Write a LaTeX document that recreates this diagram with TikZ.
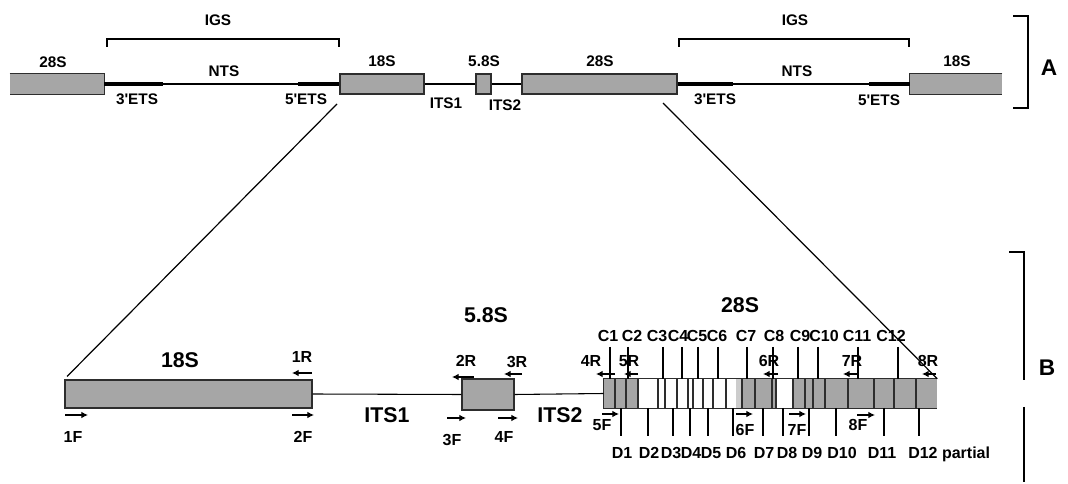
\documentclass[tikz,border=0pt]{standalone}
\usepackage{fontspec}
\setmainfont{Liberation Sans}
\usetikzlibrary{fit,arrows.meta}
\definecolor{boxgray}{RGB}{166,166,166}
\definecolor{lightband}{RGB}{204,204,204}
\definecolor{edge}{RGB}{45,45,45}
\tikzset{
  gbox/.style={draw=edge, fill=boxgray, line width=1.1pt, inner sep=0pt},
  gfill/.style={fill=boxgray, inner sep=0pt},
  hidebox/.style={inner sep=0pt},
  edgeline/.style={draw=edge, line width=1.1pt},
  lab/.style={font=\fontsize{11.5}{13}\selectfont\bfseries, inner sep=0pt, text depth=0pt},
  labsm/.style={font=\fontsize{12}{14}\selectfont\bfseries, inner sep=0pt, text depth=0pt},
  labbig/.style={font=\fontsize{16}{19}\selectfont\bfseries, inner sep=0pt, text depth=0pt},
  sect/.style={font=\fontsize{17}{20}\selectfont\bfseries, inner sep=0pt, text depth=0pt},
  thinline/.style={line width=0.8pt},
  ets/.style={line width=2.4pt},
  prim/.style={line width=0.9pt, -{Latex[length=5pt,width=5pt]}},
}

\begin{document}
\begin{tikzpicture}[x=0.75pt, y=-0.75pt]
\useasboundingbox (0,0) rectangle (1068,484);

% --- A: repeat unit
\node[gfill, fit={(10,74) (104,94)}] (a28l) {};
\node[gbox, fit={(340,74) (424,94)}] (a18) {};
\node[gbox, fit={(476,74) (491,94)}] (a58) {};
\node[gbox, fit={(522,74) (677,94)}] (a28) {};
\node[gfill, fit={(910,74) (1002,94)}] (a18r) {};
\draw[edgeline] (a28l.north west) -- (a28l.north east) -- (a28l.south east) -- (a28l.south west);
\draw[edgeline] (a18r.north east) -- (a18r.north west) -- (a18r.south west) -- (a18r.south east);
\draw[thinline] (a28l.east) -- (a18.west);
\draw[thinline] (a18.east) -- (a58.west);
\draw[thinline] (a58.east) -- (a28.west);
\draw[thinline] (a28.east) -- (a18r.west);
\coordinate (e1) at (163,84);
\coordinate (e2) at (298,84);
\coordinate (e3) at (733,84);
\coordinate (e4) at (869,84);
\draw[ets] (a28l.east) -- (e1);
\draw[ets] (e2) -- (a18.west);
\draw[ets] (a28.east) -- (e3);
\draw[ets] (e4) -- (a18r.west);

\node[lab] (t28l) at (53,62) {28S};
\node[lab] (t18) at (382,61) {18S};
\node[lab] (t58) at (484,61) {5.8S};
\node[lab] (t28) at (600,61) {28S};
\node[lab] (t18r) at (957,61) {18S};
\node[lab] (nts1) at (224,71) {NTS};
\node[lab] (nts2) at (797,71) {NTS};
\node[lab] (ets3a) at (137,99) {3\textquotesingle ETS};
\node[lab] (ets5a) at (306,99) {5\textquotesingle ETS};
\node[lab] (ets3b) at (715,99) {3\textquotesingle ETS};
\node[lab] (ets5b) at (879,100) {5\textquotesingle ETS};
\node[lab] (its1a) at (446,103) {ITS1};
\node[lab] (its2a) at (505,105) {ITS2};
\node[lab] (igs1) at (218,20) {IGS};
\node[lab] (igs2) at (795,20) {IGS};
\draw[thinline] (107,47) -- (107,39) -- (339,39) -- (339,47);
\draw[thinline] (679,47) -- (679,39) -- (909,39) -- (909,47);
\draw[thinline] (1013,16) -- (1028,16) -- (1028,108) -- (1013,108);
\node[sect] (secA) at (1049,68) {A};

% --- B: rDNA region
\node[gbox, fit={(65,380) (312,408)}] (b18) {};
\node[gbox, fit={(462,379) (514,410)}] (b58) {};
\node[hidebox, fit={(604,379) (937,408)}] (b28) {};
\fill[boxgray] (604,379) rectangle (937,408);
\fill[white] (638,379) rectangle (736,408);
\fill[lightband] (736,379) rectangle (742,408);
\fill[white] (776,379) rectangle (793,408);
\foreach \s in {615,626,638,658,665,677,688,693,703,713,726,742,755,772,776,793,805,813,825,848,874,894,916}
  \draw[draw=edge, line width=0.9pt] (\s,379) -- (\s,408);
\draw[edgeline] (b28.north east) -- (b28.north west) -- (b28.south west) -- (b28.south east);
\draw[thinline] (b18.east) -- (b58.west);
\draw[thinline] (b58.east) -- (b28.west);

\node[labbig] (h18) at (180,360) {18S};
\node[labbig] (h58) at (486,315) {5.8S};
\node[labbig] (h28) at (740,305) {28S};
\node[labbig] (its1b) at (387,415) {ITS1};
\node[labbig] (its2b) at (560,415) {ITS2};

% conserved / divergent domains
\foreach \n/\tx/\lx in {1/610/608, 2/628/632, 3/663/657, 4/682/678, 5/698/697, 6/718/717,
    7/747/746, 8/773/774, 9/798/800, 10/818/824, 11/858/857, 12/898/891} {
  \draw[thinline] (\tx,347) -- (\tx,379);
  \node[labsm] (c\n) at (\lx,336) {C\n};
}
\foreach \n/\tx/\lx in {1/621/622, 2/648/649, 3/673/671, 4/690/691, 5/708/711, 6/733/736,
    7/763/764, 8/783/787, 9/809/812, 10/836/842, 11/884/882} {
  \draw[thinline] (\tx,408) -- (\tx,436);
  \node[labsm] (d\n) at (\lx,453) {D\n};
}
\draw[thinline] (919,408) -- (919,436);
\node[labsm, anchor=west] (d12) at (908,453) {D12 partial};

% primers
\foreach \n/\lx/\ly/\ax/\bx/\ay in {1R/302/357/312/292/373, 1F/73/437/65/88/415,
    2F/303/437/292/314/415, 2R/466/361/474/452/377, 3R/517/362/522/504/374,
    3F/452/440/447/466/418, 4F/504/437/498/518/418, 4R/591/361/615/596/374,
    5R/629/361/638/624/374, 6R/769/361/778/763/374, 7R/852/361/858/843/374,
    8R/928/361/936/922/374, 5F/602/425/602/619/414, 6F/745/430/736/753/414,
    7F/797/430/789/806/414, 8F/858/425/857/875/415} {
  \node[labsm] (p\n) at (\lx,\ly) {\n};
  \draw[prim] (\ax,\ay) -- (\bx,\ay);
}

% zoom lines
\coordinate (zl) at (337,104);
\coordinate (zr) at (663,103);
\draw[line width=0.9pt, shorten >=3pt] (zl) -- (b18.north west);
\draw[line width=0.9pt] (zr) -- (b28.north east);

\draw[thinline] (1009,252) -- (1024,252) -- (1024,380);
\draw[thinline] (1024,407) -- (1024,482);
\node[sect] (secB) at (1047,368) {B};
\end{tikzpicture}
\end{document}
